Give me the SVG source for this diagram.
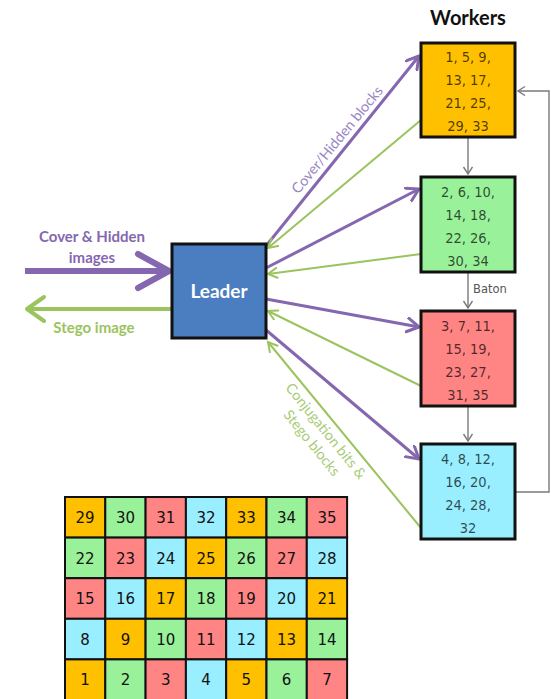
<svg xmlns="http://www.w3.org/2000/svg" width="551" height="699" viewBox="0 0 551 699">
  <style>
    .worker { stroke: #111; stroke-width: 3; }
    .wtext { font-family: "DejaVu Sans Condensed", "DejaVu Sans", Verdana, sans-serif; font-size: 14.5px; fill: #000; fill-opacity: 0.7; text-anchor: middle; }
    .cell { stroke: #111; stroke-width: 2; }
    .ctext { font-family: "DejaVu Sans", Verdana, sans-serif; font-size: 15px; fill: #111; text-anchor: middle; }
    .o { fill: #FFC000; }
    .g { fill: #99F29A; }
    .r { fill: #FF8585; }
    .c { fill: #99EEFF; }
    .purple { stroke: #8567B0; stroke-width: 3; fill: none; }
    .green { stroke: #9BC35E; stroke-width: 2; fill: none; }
    .gray { stroke: #7a7a7a; stroke-width: 1.4; fill: none; }
    .lbl { font-family: Lato, "Open Sans", sans-serif; font-weight: bold; }
    .rot { font-family: Lato, "Open Sans", sans-serif; font-size: 14.5px; text-anchor: middle; }
  </style>
  <defs>
    <marker id="headPurple" markerUnits="userSpaceOnUse" markerWidth="20" markerHeight="20" refX="13" refY="8" orient="auto">
      <path d="M1,1 L13,8 L1,15" fill="none" stroke="#8567B0" stroke-width="3" stroke-linejoin="round" stroke-linecap="round"/>
    </marker>
    <marker id="headGreen" markerUnits="userSpaceOnUse" markerWidth="16" markerHeight="16" refX="10" refY="6" orient="auto">
      <path d="M1,1 L10,6 L1,11" fill="none" stroke="#9BC35E" stroke-width="2" stroke-linecap="round"/>
    </marker>
    <marker id="headGray" markerUnits="userSpaceOnUse" markerWidth="14" markerHeight="14" refX="8" refY="5" orient="auto">
      <path d="M1,0.5 L8,5 L1,9.5" fill="none" stroke="#7a7a7a" stroke-width="1.4"/>
    </marker>
  </defs>

  <rect width="551" height="699" fill="#fff"/>

  <!-- connectors -->
  <g id="connectors">
    <!-- input / output of the leader -->
    <line x1="25" y1="271" x2="166" y2="271" stroke="#8567B0" stroke-width="6"/>
    <polyline points="138,254 169,271 138,288" fill="none" stroke="#8567B0" stroke-width="6" stroke-linejoin="round" stroke-linecap="round"/>
    <line x1="172" y1="309" x2="30" y2="309" stroke="#9BC35E" stroke-width="4"/>
    <polyline points="44,297 27,309 44,321" fill="none" stroke="#9BC35E" stroke-width="4" stroke-linejoin="round" stroke-linecap="round"/>

    <!-- leader to workers -->
    <line class="purple" x1="266" y1="246" x2="419" y2="56" marker-end="url(#headPurple)"/>
    <line class="purple" x1="266" y1="268" x2="419" y2="189" marker-end="url(#headPurple)"/>
    <line class="purple" x1="266" y1="299" x2="419" y2="327" marker-end="url(#headPurple)"/>
    <line class="purple" x1="266" y1="330" x2="419" y2="459" marker-end="url(#headPurple)"/>

    <!-- workers to leader -->
    <line class="green" x1="421" y1="120" x2="268" y2="248" marker-end="url(#headGreen)"/>
    <line class="green" x1="421" y1="254" x2="268" y2="274" marker-end="url(#headGreen)"/>
    <line class="green" x1="421" y1="386" x2="268" y2="311" marker-end="url(#headGreen)"/>
    <line class="green" x1="421" y1="528" x2="268" y2="342" marker-end="url(#headGreen)"/>

    <!-- baton passing between workers -->
    <line class="gray" x1="468" y1="138" x2="468" y2="174" marker-end="url(#headGray)"/>
    <line class="gray" x1="468" y1="273" x2="468" y2="308" marker-end="url(#headGray)"/>
    <line class="gray" x1="468" y1="407" x2="468" y2="441" marker-end="url(#headGray)"/>
    <polyline class="gray" points="516,492 549,492 549,91 518,91" marker-end="url(#headGray)"/>

    <!-- connector labels -->
    <text class="lbl" x="92" y="242" font-size="15" fill="#8567B0" text-anchor="middle">Cover &amp; Hidden</text>
    <text class="lbl" x="92" y="263" font-size="15" fill="#8567B0" text-anchor="middle">images</text>
    <text class="lbl" x="94" y="333" font-size="15" fill="#9BC35E" text-anchor="middle">Stego image</text>
    <text class="rot" fill="#9A86C4" transform="translate(341,143) rotate(-50.5)">Cover/Hidden blocks</text>
    <text class="rot" fill="#A8CC78" transform="translate(322,434) rotate(51)">Conjugation bits &amp;</text>
    <text class="rot" fill="#A8CC78" transform="translate(308,446) rotate(51)">Stego blocks</text>
    <text x="473" y="293" font-family="DejaVu Sans, Verdana, sans-serif" font-size="11.5" fill="#555">Baton</text>
  </g>

  <!-- leader -->
  <g id="leader">
    <rect x="172" y="244" width="94" height="94" fill="#4A7EC0" stroke="#111" stroke-width="3"/>
    <text class="lbl" x="219" y="298" font-size="19" fill="#fff" text-anchor="middle">Leader</text>
  </g>

  <text class="lbl" x="468" y="25" font-size="20" fill="#111" text-anchor="middle">Workers</text>

  <!-- workers -->
  <g id="worker1">
    <rect class="worker o" x="421" y="43" width="94" height="94"/>
    <text class="wtext" x="468" y="62">1, 5, 9,</text>
    <text class="wtext" x="468" y="85">13, 17,</text>
    <text class="wtext" x="468" y="108">21, 25,</text>
    <text class="wtext" x="468" y="131">29, 33</text>
  </g>
  <g id="worker2">
    <rect class="worker g" x="421" y="177" width="94" height="95"/>
    <text class="wtext" x="468" y="197">2, 6, 10,</text>
    <text class="wtext" x="468" y="220">14, 18,</text>
    <text class="wtext" x="468" y="243">22, 26,</text>
    <text class="wtext" x="468" y="266">30, 34</text>
  </g>
  <g id="worker3">
    <rect class="worker r" x="421" y="311" width="94" height="95"/>
    <text class="wtext" x="468" y="331">3, 7, 11,</text>
    <text class="wtext" x="468" y="354">15, 19,</text>
    <text class="wtext" x="468" y="377">23, 27,</text>
    <text class="wtext" x="468" y="400">31, 35</text>
  </g>
  <g id="worker4">
    <rect class="worker c" x="421" y="444" width="94" height="95"/>
    <text class="wtext" x="468" y="464">4, 8, 12,</text>
    <text class="wtext" x="468" y="487">16, 20,</text>
    <text class="wtext" x="468" y="510">24, 28,</text>
    <text class="wtext" x="468" y="533">32</text>
  </g>

  <!-- block assignment grid -->
  <g id="grid">
    <rect class="cell o" x="65" y="497" width="40.3" height="40.6"/><text class="ctext" x="85" y="523">29</text>
    <rect class="cell g" x="105.3" y="497" width="40.3" height="40.6"/><text class="ctext" x="125.5" y="523">30</text>
    <rect class="cell r" x="145.6" y="497" width="40.3" height="40.6"/><text class="ctext" x="165.8" y="523">31</text>
    <rect class="cell c" x="185.9" y="497" width="40.3" height="40.6"/><text class="ctext" x="206" y="523">32</text>
    <rect class="cell o" x="226.2" y="497" width="40.3" height="40.6"/><text class="ctext" x="246.3" y="523">33</text>
    <rect class="cell g" x="266.5" y="497" width="40.3" height="40.6"/><text class="ctext" x="286.6" y="523">34</text>
    <rect class="cell r" x="306.8" y="497" width="40.3" height="40.6"/><text class="ctext" x="327" y="523">35</text>

    <rect class="cell g" x="65" y="537.6" width="40.3" height="40.6"/><text class="ctext" x="85" y="563.6">22</text>
    <rect class="cell r" x="105.3" y="537.6" width="40.3" height="40.6"/><text class="ctext" x="125.5" y="563.6">23</text>
    <rect class="cell c" x="145.6" y="537.6" width="40.3" height="40.6"/><text class="ctext" x="165.8" y="563.6">24</text>
    <rect class="cell o" x="185.9" y="537.6" width="40.3" height="40.6"/><text class="ctext" x="206" y="563.6">25</text>
    <rect class="cell g" x="226.2" y="537.6" width="40.3" height="40.6"/><text class="ctext" x="246.3" y="563.6">26</text>
    <rect class="cell r" x="266.5" y="537.6" width="40.3" height="40.6"/><text class="ctext" x="286.6" y="563.6">27</text>
    <rect class="cell c" x="306.8" y="537.6" width="40.3" height="40.6"/><text class="ctext" x="327" y="563.6">28</text>

    <rect class="cell r" x="65" y="578.2" width="40.3" height="40.6"/><text class="ctext" x="85" y="604.2">15</text>
    <rect class="cell c" x="105.3" y="578.2" width="40.3" height="40.6"/><text class="ctext" x="125.5" y="604.2">16</text>
    <rect class="cell o" x="145.6" y="578.2" width="40.3" height="40.6"/><text class="ctext" x="165.8" y="604.2">17</text>
    <rect class="cell g" x="185.9" y="578.2" width="40.3" height="40.6"/><text class="ctext" x="206" y="604.2">18</text>
    <rect class="cell r" x="226.2" y="578.2" width="40.3" height="40.6"/><text class="ctext" x="246.3" y="604.2">19</text>
    <rect class="cell c" x="266.5" y="578.2" width="40.3" height="40.6"/><text class="ctext" x="286.6" y="604.2">20</text>
    <rect class="cell o" x="306.8" y="578.2" width="40.3" height="40.6"/><text class="ctext" x="327" y="604.2">21</text>

    <rect class="cell c" x="65" y="618.8" width="40.3" height="40.6"/><text class="ctext" x="85" y="644.8">8</text>
    <rect class="cell o" x="105.3" y="618.8" width="40.3" height="40.6"/><text class="ctext" x="125.5" y="644.8">9</text>
    <rect class="cell g" x="145.6" y="618.8" width="40.3" height="40.6"/><text class="ctext" x="165.8" y="644.8">10</text>
    <rect class="cell r" x="185.9" y="618.8" width="40.3" height="40.6"/><text class="ctext" x="206" y="644.8">11</text>
    <rect class="cell c" x="226.2" y="618.8" width="40.3" height="40.6"/><text class="ctext" x="246.3" y="644.8">12</text>
    <rect class="cell o" x="266.5" y="618.8" width="40.3" height="40.6"/><text class="ctext" x="286.6" y="644.8">13</text>
    <rect class="cell g" x="306.8" y="618.8" width="40.3" height="40.6"/><text class="ctext" x="327" y="644.8">14</text>

    <rect class="cell o" x="65" y="659.4" width="40.3" height="42"/><text class="ctext" x="85" y="685.4">1</text>
    <rect class="cell g" x="105.3" y="659.4" width="40.3" height="42"/><text class="ctext" x="125.5" y="685.4">2</text>
    <rect class="cell r" x="145.6" y="659.4" width="40.3" height="42"/><text class="ctext" x="165.8" y="685.4">3</text>
    <rect class="cell c" x="185.9" y="659.4" width="40.3" height="42"/><text class="ctext" x="206" y="685.4">4</text>
    <rect class="cell o" x="226.2" y="659.4" width="40.3" height="42"/><text class="ctext" x="246.3" y="685.4">5</text>
    <rect class="cell g" x="266.5" y="659.4" width="40.3" height="42"/><text class="ctext" x="286.6" y="685.4">6</text>
    <rect class="cell r" x="306.8" y="659.4" width="40.3" height="42"/><text class="ctext" x="327" y="685.4">7</text>
  </g>
</svg>
